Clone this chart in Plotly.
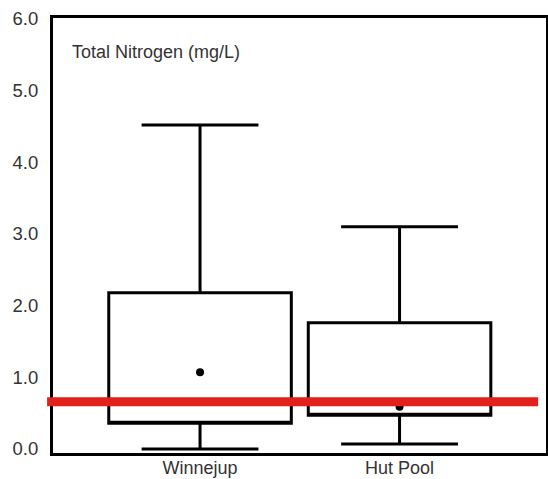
import plotly.graph_objects as go

# Data
sites = ["Winnejup", "Hut Pool"]
q1 = [0.36, 0.47]
q3 = [2.18, 1.76]
lower = [0.00, 0.07]
upper = [4.52, 3.10]
centre_dot = [1.07, 0.59]
guideline = 0.66
y_ticks = [0, 1, 2, 3, 4, 5, 6]
y_ticklabels = ["0.0", "1.0", "2.0", "3.0", "4.0", "5.0", "6.0"]
label = "Total Nitrogen (mg/L)"

FONT = "Liberation Sans, Arial, sans-serif"
TXT = "#333333"

fig = go.Figure()

for i, s in enumerate(sites):
    fig.add_trace(go.Box(
        x=[s],
        q1=[q1[i]], median=[q1[i]], q3=[q3[i]],
        lowerfence=[lower[i]], upperfence=[upper[i]],
        width=0.915, whiskerwidth=0.64,
        line=dict(color="black", width=3),
        fillcolor="rgba(255,255,255,0)",
        boxpoints=False, showlegend=False, hoverinfo="skip",
    ))

fig.add_trace(go.Scatter(
    x=sites, y=centre_dot, mode="markers",
    marker=dict(color="black", size=8),
    showlegend=False, hoverinfo="skip",
))

fig.add_shape(type="line", xref="paper", yref="y",
              x0=-0.012, x1=0.984, y0=guideline, y1=guideline,
              line=dict(color="#e3201b", width=9), layer="above")

fig.add_annotation(text=label, xref="paper", yref="paper",
                   x=0.034, y=0.922, xanchor="left", yanchor="middle",
                   showarrow=False, font=dict(family=FONT, size=18, color=TXT))

fig.update_layout(
    width=548, height=479,
    margin=dict(l=53, r=2, t=18, b=26),
    paper_bgcolor="white", plot_bgcolor="white",
    font=dict(family=FONT, size=18.5, color=TXT),
    xaxis=dict(type="category", categoryorder="array", categoryarray=sites,
               range=[-0.737, 1.734], showline=True, linecolor="black",
               linewidth=3, mirror=True, ticks="", showgrid=False,
               zeroline=False, ticklabelstandoff=-4, automargin=False,
               tickfont=dict(size=18)),
    yaxis=dict(range=[-0.056, 6.014], tickvals=y_ticks, ticktext=y_ticklabels,
               showline=True, linecolor="black", linewidth=3, mirror=True,
               ticks="", showgrid=False, zeroline=False, ticklabelstandoff=8,
               automargin=False),
)

fig.write_html("out.html", config={"displayModeBar": False},
               post_script="document.body.style.margin='0';document.body.style.overflow='hidden';")
